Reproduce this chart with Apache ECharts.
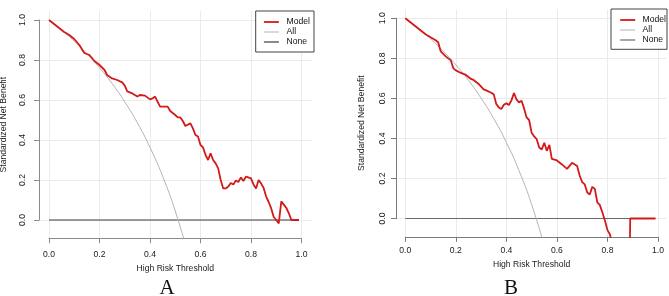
<!DOCTYPE html>
<html>
<head>
<meta charset="utf-8">
<script src="https://cdn.jsdelivr.net/npm/echarts@6/dist/echarts.min.js"></script>
<style>
html, body { margin: 0; padding: 0; background: #fff; }
#graph { width: 669px; height: 296px; }
</style>
</head>
<body>
<div id="graph"></div>
<script>
"use strict"

// ---- data ----
const ticks = [0, 0.2, 0.4, 0.6, 0.8, 1.0];
const legendNames = ["Model", "All", "None"];

// panel A
const thrA = [0, 0.03, 0.06, 0.08, 0.10, 0.12, 0.14, 0.16, 0.18, 0.20, 0.22, 0.23, 0.25, 0.27, 0.29, 0.30,
    0.31, 0.33, 0.35, 0.36, 0.38, 0.40, 0.41, 0.42, 0.44, 0.47, 0.48, 0.50, 0.51, 0.52, 0.53, 0.54, 0.56,
    0.57, 0.58, 0.59, 0.60, 0.61, 0.62, 0.63, 0.64, 0.65, 0.66, 0.67, 0.68, 0.69, 0.70, 0.71, 0.72, 0.73,
    0.74, 0.75, 0.76, 0.77, 0.78, 0.80, 0.81, 0.82, 0.83, 0.84, 0.85, 0.86, 0.87, 0.88, 0.89, 0.90, 0.91,
    0.92, 0.93, 0.94, 0.95, 0.96, 0.99];
const modelA = [1.0, 0.97, 0.94, 0.925, 0.905, 0.875, 0.835, 0.825, 0.795, 0.775, 0.75, 0.725, 0.708, 0.70, 0.688, 0.672,
    0.643, 0.633, 0.617, 0.625, 0.622, 0.603, 0.608, 0.617, 0.567, 0.567, 0.545, 0.525, 0.513, 0.513, 0.495, 0.47, 0.483,
    0.458, 0.425, 0.417, 0.375, 0.363, 0.325, 0.30, 0.333, 0.30, 0.283, 0.258, 0.20, 0.158, 0.158, 0.167, 0.185, 0.177,
    0.198, 0.19, 0.213, 0.195, 0.217, 0.208, 0.178, 0.158, 0.20, 0.183, 0.16, 0.117, 0.09, 0.058, 0.015, 0.0, -0.017,
    0.093, 0.077, 0.06, 0.033, 0.0, 0.0];
const allThrA = [0, 0.05, 0.10, 0.15, 0.20, 0.25, 0.30, 0.35, 0.40, 0.45, 0.50, 0.55];
const allA = [1.0, 0.950, 0.894, 0.831, 0.761, 0.682, 0.591, 0.486, 0.363, 0.219, 0.045, -0.167];

// panel B
const thrB = [0, 0.04, 0.08, 0.10, 0.12, 0.13, 0.14, 0.16, 0.18, 0.19, 0.20, 0.22, 0.24, 0.26, 0.27, 0.29,
    0.31, 0.32, 0.34, 0.35, 0.36, 0.37, 0.38, 0.39, 0.40, 0.41, 0.42, 0.43, 0.44, 0.45, 0.46, 0.47, 0.48,
    0.49, 0.50, 0.51, 0.52, 0.53, 0.54, 0.55, 0.56, 0.57, 0.58, 0.60, 0.62, 0.64, 0.66, 0.68, 0.69, 0.70,
    0.71, 0.72, 0.73, 0.74, 0.75, 0.76, 0.77, 0.78, 0.79, 0.80, 0.81, 0.82, 0.85, 0.88, 0.89, 0.99];
const modelB = [1.0, 0.96, 0.92, 0.905, 0.89, 0.88, 0.835, 0.81, 0.79, 0.75, 0.74, 0.727, 0.717, 0.697, 0.692, 0.672,
    0.645, 0.64, 0.628, 0.62, 0.572, 0.555, 0.547, 0.568, 0.575, 0.567, 0.59, 0.627, 0.595, 0.58, 0.588, 0.55, 0.505,
    0.492, 0.428, 0.41, 0.396, 0.355, 0.345, 0.378, 0.338, 0.368, 0.298, 0.29, 0.27, 0.248, 0.278, 0.262, 0.215, 0.182,
    0.17, 0.13, 0.12, 0.158, 0.148, 0.08, 0.067, 0.03, -0.01, -0.058, -0.08, -0.14, -0.4, -1.2, 0.0, 0.0];
const allThrB = [0, 0.05, 0.10, 0.15, 0.20, 0.25, 0.30, 0.35, 0.40, 0.45, 0.50, 0.55];
const allB = [1.0, 0.951, 0.897, 0.836, 0.768, 0.690, 0.601, 0.499, 0.380, 0.239, 0.070, -0.137];

const noneThr = [0, 0.99];
const noneVal = [0, 0];

// ---- layout (pixels) ----
const font = "Liberation Sans";
const layA = {
    left: 39, right: 312, x0: 49, x1: 301.5, top: 11, bottom: 238.3, y1: 20, y0: 220,
    axisColor: "#8a8a8a", noneColor: "#3c3c3c", xLabelGap: 11.5, yLabelGap: 11.5, xNameGap: 23, yNameGap: 30.5,
    legend: { left: 255.7, top: 11, padding: [6, 4, 5, 7.3], textPad: 2.7 },
    tag: "A", tagX: 167, tagY: 288
};
const layB = {
    left: 396, right: 666, x0: 405.3, x1: 658, top: 9.5, bottom: 236.8, y1: 18.3, y0: 218.5,
    axisColor: "#7a7a7a", noneColor: "#6a6a6a", xLabelGap: 9, yLabelGap: 9, xNameGap: 23, yNameGap: 30,
    legend: { left: 611, top: 9, padding: [6, 1, 4.3, 8.3], textPad: 2.4 },
    tag: "B", tagX: 511, tagY: 288
};

const zip = (xs, ys) => xs.map((x, i) => [x, ys[i]]);
const txt = { fontFamily: font, fontSize: 8.6, color: "#1a1a1a" };
const noSymbol = { opacity: 0, borderWidth: 0, color: "rgba(0,0,0,0)" };

const grids = [], xAxes = [], yAxes = [], series = [], legends = [], graphics = [];

function addPanel(i, lay, thr, model, allThr, allVal)
{
    const base = i * 3;
    const h = lay.bottom - lay.top, w = lay.right - lay.left;
    const ux = lay.x1 - lay.x0, uy = lay.y0 - lay.y1;

    // data region, x grid-line region, y grid-line region
    grids.push({ left: lay.left, top: lay.top, width: w, height: h, containLabel: false, outerBoundsMode: "none" });
    grids.push({ left: lay.x0, top: lay.top, width: ux, height: h, containLabel: false, outerBoundsMode: "none" });
    grids.push({ left: lay.left, top: lay.y1, width: w, height: uy, containLabel: false, outerBoundsMode: "none" });

    xAxes.push({
        type: "value", gridIndex: base, show: false,
        min: (lay.left - lay.x0) / ux, max: (lay.right - lay.x0) / ux
    });
    yAxes.push({
        type: "value", gridIndex: base, position: "left",
        min: (lay.y0 - lay.bottom) / uy, max: (lay.y0 - lay.top) / uy,
        axisLine: { show: false }, axisTick: { show: false }, axisLabel: { show: false }, splitLine: { show: false },
        name: "Standardized Net Benefit", nameLocation: "middle", nameRotate: 90, nameGap: lay.yNameGap,
        nameTextStyle: Object.assign({}, txt)
    });

    xAxes.push({
        type: "value", gridIndex: base + 1, position: "bottom",
        min: ticks[0], max: ticks[ticks.length - 1], interval: ticks[1] - ticks[0],
        axisLine: { show: true, onZero: false, lineStyle: { color: lay.axisColor, width: 1 } },
        axisTick: { show: true, length: 5, lineStyle: { color: lay.axisColor } },
        axisLabel: Object.assign({ margin: lay.xLabelGap, showMinLabel: true, showMaxLabel: true, formatter: v => v.toFixed(1) }, txt),
        splitLine: { show: true, lineStyle: { color: "#ebebeb", width: 1 } },
        name: "High Risk Threshold", nameLocation: "middle", nameGap: lay.xNameGap,
        nameTextStyle: Object.assign({}, txt)
    });
    yAxes.push({ type: "value", gridIndex: base + 1, min: 0, max: 1, show: false });

    xAxes.push({ type: "value", gridIndex: base + 2, min: 0, max: 1, show: false });
    yAxes.push({
        type: "value", gridIndex: base + 2, position: "left",
        min: ticks[0], max: ticks[ticks.length - 1], interval: ticks[1] - ticks[0],
        axisLine: { show: true, onZero: false, lineStyle: { color: lay.axisColor, width: 1 } },
        axisTick: { show: true, length: 5, lineStyle: { color: lay.axisColor } },
        axisLabel: Object.assign({ margin: lay.yLabelGap, rotate: 90, showMinLabel: true, showMaxLabel: true, formatter: v => v.toFixed(1) }, txt),
        splitLine: { show: true, lineStyle: { color: "#ebebeb", width: 1 } }
    });

    series.push({
        name: "None", type: "line", xAxisIndex: base, yAxisIndex: base, data: zip(noneThr, noneVal),
        symbol: "none", clip: true, z: 3, animation: false,
        lineStyle: { color: lay.noneColor, width: 1.2 }, itemStyle: { color: lay.noneColor }
    });
    series.push({
        name: "All", type: "line", xAxisIndex: base, yAxisIndex: base, data: zip(allThr, allVal),
        symbol: "none", smooth: true, clip: true, z: 3, animation: false,
        lineStyle: { color: "#b3b3b3", width: 1 }, itemStyle: { color: "#b3b3b3" }
    });
    series.push({
        name: "Model", type: "line", xAxisIndex: base, yAxisIndex: base, data: zip(thr, model),
        symbol: "none", clip: true, z: 4, animation: false,
        lineStyle: { color: "#d21a1a", width: 1.8 }, itemStyle: { color: "#d21a1a" }
    });

    const lg = lay.legend;
    legends.push({
        orient: "vertical", left: lg.left, top: lg.top, padding: lg.padding,
        itemWidth: 15, itemHeight: 10, itemGap: 0, selectedMode: false,
        borderColor: "#444", borderWidth: 1, backgroundColor: "#fff",
        textStyle: { fontFamily: font, fontSize: 8.6, lineHeight: 10, color: "#111", padding: [0, 0, 0, lg.textPad] },
        data: [
            { name: legendNames[0], lineStyle: { color: "#d21a1a", width: 1.8 }, itemStyle: noSymbol },
            { name: legendNames[1], lineStyle: { color: "#b3b3b3", width: 1 }, itemStyle: noSymbol },
            { name: legendNames[2], lineStyle: { color: lay.noneColor, width: 1.2 }, itemStyle: noSymbol }
        ]
    });

    graphics.push({
        type: "text", x: lay.tagX, y: lay.tagY,
        style: { text: lay.tag, fontFamily: "Liberation Serif", fontSize: 21, fill: "#111", align: "center", verticalAlign: "middle" }
    });
}

addPanel(0, layA, thrA, modelA, allThrA, allA);
addPanel(1, layB, thrB, modelB, allThrB, allB);

const myChart = echarts.init(document.getElementById("graph"), null, { renderer: "canvas" });
myChart.setOption({
    animation: false,
    backgroundColor: "#fff",
    grid: grids,
    xAxis: xAxes,
    yAxis: yAxes,
    legend: legends,
    series: series,
    graphic: graphics
});
</script>
</body>
</html>
